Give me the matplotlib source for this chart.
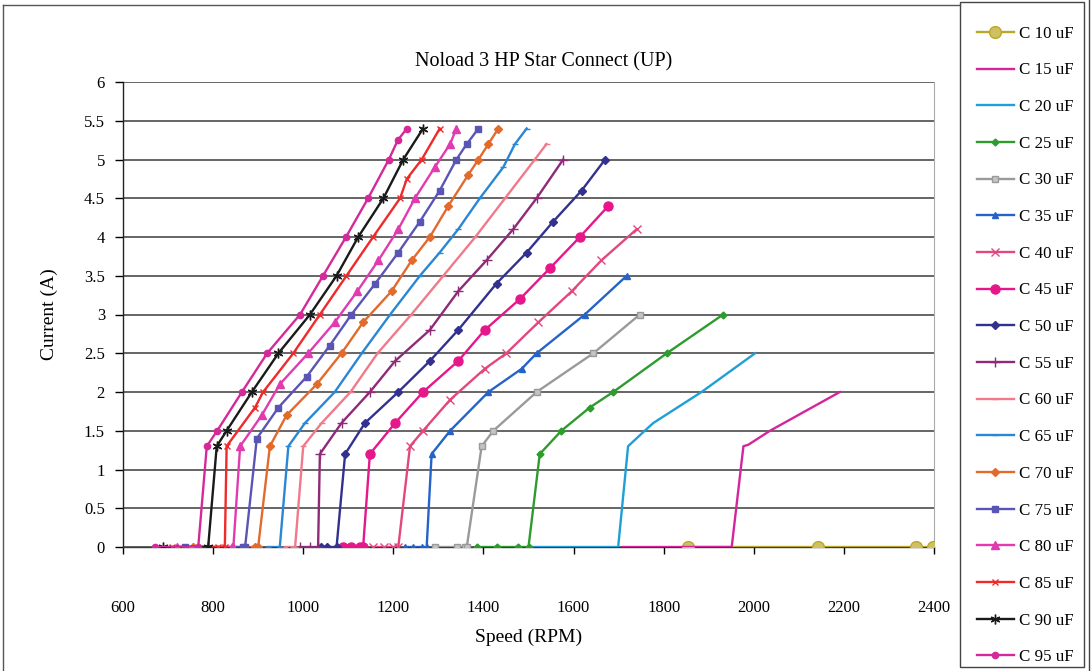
"""
No-load test of a 3 HP motor in star connection: line current against
rotor speed for each run capacitor size (10 uF to 95 uF).
"""

import matplotlib
matplotlib.use('Agg')
import matplotlib.pyplot as plt
from matplotlib.lines import Line2D
from matplotlib.patches import Rectangle

plt.rcParams.update({
    'font.family': 'Liberation Serif',
    'font.size': 11,
    'axes.linewidth': 1.0,
})

# Measured points, speed in RPM and current in A, one pair of lists per capacitor
speed_c10 = [1854, 2143, 2360, 2397]
current_c10 = [0, 0, 0, 0]

speed_c15 = [1710, 1951, 1977, 1988, 2036, 2191]
current_c15 = [0, 0, 1.3, 1.32, 1.5, 2.0]

speed_c20 = [1500, 1699, 1721, 1758, 1777, 1884, 2003]
current_c20 = [0, 0, 1.3, 1.5, 1.6, 2.0, 2.5]

speed_c25 = [1385, 1429, 1477, 1500, 1525, 1573, 1636, 1688, 1807, 1932]
current_c25 = [0, 0, 0, 0, 1.2, 1.5, 1.8, 2.0, 2.5, 3.0]

speed_c30 = [1292, 1341, 1359, 1363, 1396, 1422, 1518, 1644, 1747]
current_c30 = [0, 0, 0, 0, 1.3, 1.5, 2.0, 2.5, 3.0]

speed_c35 = [1226, 1244, 1263, 1274, 1285, 1326, 1411, 1485, 1518, 1625, 1718]
current_c35 = [0, 0, 0, 0, 1.2, 1.5, 2.0, 2.3, 2.5, 3.0, 3.5]

speed_c40 = [1155, 1180, 1200, 1211, 1237, 1266, 1326, 1403, 1451, 1522, 1596, 1662, 1740]
current_c40 = [0, 0, 0, 0, 1.3, 1.5, 1.9, 2.3, 2.5, 2.9, 3.3, 3.7, 4.1]

speed_c45 = [1089, 1105, 1126, 1133, 1148, 1204, 1266, 1344, 1403, 1481, 1548, 1614, 1677]
current_c45 = [0, 0, 0, 0, 1.2, 1.6, 2.0, 2.4, 2.8, 3.2, 3.6, 4.0, 4.4]

speed_c50 = [1040, 1052, 1074, 1093, 1137, 1211, 1281, 1344, 1429, 1496, 1555, 1618, 1670]
current_c50 = [0, 0, 0, 1.2, 1.6, 2.0, 2.4, 2.8, 3.4, 3.8, 4.2, 4.6, 5.0]

speed_c55 = [993, 1015, 1033, 1037, 1085, 1148, 1204, 1281, 1344, 1407, 1466, 1518, 1577]
current_c55 = [0, 0, 0, 1.2, 1.6, 2.0, 2.4, 2.8, 3.3, 3.7, 4.1, 4.5, 5.0]

speed_c60 = [960, 978, 982, 1000, 1041, 1105, 1165, 1240, 1311, 1382, 1448, 1514, 1540]
current_c60 = [0, 0, 0, 1.3, 1.6, 2.0, 2.5, 3.0, 3.5, 4.0, 4.5, 5.0, 5.2]

speed_c65 = [922, 948, 967, 1004, 1070, 1130, 1193, 1259, 1303, 1344, 1392, 1444, 1470, 1496]
current_c65 = [0, 0, 1.3, 1.6, 2.0, 2.5, 3.0, 3.5, 3.8, 4.1, 4.5, 4.9, 5.2, 5.4]

speed_c70 = [755, 893, 900, 926, 963, 1030, 1085, 1133, 1196, 1241, 1281, 1322, 1366, 1389, 1411, 1433]
current_c70 = [0, 0, 0, 1.3, 1.7, 2.1, 2.5, 2.9, 3.3, 3.7, 4.0, 4.4, 4.8, 5.0, 5.2, 5.4]

speed_c75 = [738, 866, 871, 897, 945, 1008, 1059, 1107, 1160, 1211, 1259, 1303, 1340, 1363, 1389]
current_c75 = [0, 0, 0, 1.4, 1.8, 2.2, 2.6, 3.0, 3.4, 3.8, 4.2, 4.6, 5.0, 5.2, 5.4]

speed_c80 = [720, 841, 845, 860, 908, 948, 1011, 1070, 1120, 1167, 1211, 1248, 1292, 1326, 1340]
current_c80 = [0, 0, 0, 1.3, 1.7, 2.1, 2.5, 2.9, 3.3, 3.7, 4.1, 4.5, 4.9, 5.2, 5.4]

speed_c85 = [709, 810, 826, 830, 893, 911, 978, 1037, 1096, 1155, 1215, 1230, 1263, 1303]
current_c85 = [0, 0, 0, 1.3, 1.8, 2.0, 2.5, 3.0, 3.5, 4.0, 4.5, 4.75, 5.0, 5.4]

speed_c90 = [689, 789, 808, 830, 886, 945, 1015, 1074, 1122, 1178, 1222, 1266]
current_c90 = [0, 0, 1.3, 1.5, 2.0, 2.5, 3.0, 3.5, 4.0, 4.5, 5.0, 5.4]

speed_c95 = [671, 767, 786, 809, 864, 920, 993, 1044, 1095, 1144, 1190, 1210, 1230]
current_c95 = [0, 0, 1.3, 1.5, 2.0, 2.5, 3.0, 3.5, 4.0, 4.5, 5.0, 5.25, 5.4]

labels = ['C 10 uF', 'C 15 uF', 'C 20 uF', 'C 25 uF', 'C 30 uF', 'C 35 uF',
          'C 40 uF', 'C 45 uF', 'C 50 uF', 'C 55 uF', 'C 60 uF', 'C 65 uF',
          'C 70 uF', 'C 75 uF', 'C 80 uF', 'C 85 uF', 'C 90 uF', 'C 95 uF']

speeds = [speed_c10, speed_c15, speed_c20, speed_c25, speed_c30, speed_c35,
          speed_c40, speed_c45, speed_c50, speed_c55, speed_c60, speed_c65,
          speed_c70, speed_c75, speed_c80, speed_c85, speed_c90, speed_c95]
currents = [current_c10, current_c15, current_c20, current_c25, current_c30, current_c35,
            current_c40, current_c45, current_c50, current_c55, current_c60, current_c65,
            current_c70, current_c75, current_c80, current_c85, current_c90, current_c95]

# line colour, marker, marker size, marker face colour
styles = [
    ('#BBA827', 'o', 8.5, '#CFC062'),
    ('#D4259A', None, 0, None),
    ('#1E9FD8', None, 0, None),
    ('#2E9B2E', 'D', 3.5, None),
    ('#9A9A9A', 's', 5, '#C4C4C4'),
    ('#2563C9', '^', 5, None),
    ('#E2477F', 'x', 6, None),
    ('#E5178A', 'o', 6.5, None),
    ('#32318F', 'D', 4.5, None),
    ('#8E2A78', '+', 7, None),
    ('#F07A8A', '_', 4, None),
    ('#2B86D4', '_', 4, None),
    ('#E26A2C', 'D', 4.5, None),
    ('#5A55B5', 's', 5, None),
    ('#E23BB0', '^', 5.5, None),
    ('#F02A2A', 'x', 5, None),
    ('#1A1A1A', (6, 2, 0), 7, None),
    ('#D42A99', 'o', 4.5, None),
]

W, H = 1092, 671
fig = plt.figure(figsize=(W / 100, H / 100), dpi=100)
ax = fig.add_axes([123 / W, 1 - 547 / H, (934 - 123) / W, (547 - 82) / H])

handles = []
for i, (x, y, label, (col, mk, ms, mfc)) in enumerate(zip(speeds, currents, labels, styles)):
    line, = ax.plot(x, y, color=col, lw=1.7, marker=mk, markersize=ms,
                    markerfacecolor=mfc if mfc else col, markeredgecolor=col,
                    markeredgewidth=1.0, label=label, zorder=3 + i)
    handles.append(line)

ax.set_xlim(600, 2400)
ax.set_ylim(0, 6)
ax.set_xticks(range(600, 2401, 200))
ax.set_yticks([v * 0.5 for v in range(13)])
ax.set_yticklabels(['0', '0.5', '1', '1.5', '2', '2.5', '3', '3.5', '4', '4.5', '5', '5.5', '6'])

ax.grid(True, axis='y', color='#3c3c3c', lw=1.1)
ax.grid(False, axis='x')
ax.set_axisbelow(True)

ax.spines['top'].set_visible(False)
ax.spines['right'].set_color('#aaaaaa')
ax.spines['right'].set_linewidth(0.8)
ax.spines['left'].set_color('#222222')
ax.spines['bottom'].set_color('#3c3c3c')

ax.tick_params(axis='y', direction='out', length=6, width=1, pad=7, labelsize=12)
ax.tick_params(axis='x', direction='out', length=5, width=1, pad=33, labelsize=12)

ax.set_title('Noload 3 HP Star Connect (UP)', fontsize=14.5, pad=11, x=0.519)
ax.set_xlabel('Speed (RPM)', fontsize=14, labelpad=9)
ax.set_ylabel('Current (A)', fontsize=14, labelpad=19)

# chart area border and legend box
fig.add_artist(Line2D([3 / W, 3 / W], [0, 1 - 5 / H], color='#555555', lw=1.0,
                      transform=fig.transFigure))
fig.add_artist(Line2D([3 / W, 960 / W], [1 - 5 / H, 1 - 5 / H], color='#555555', lw=1.0,
                      transform=fig.transFigure))
fig.add_artist(Rectangle((960 / W, 4 / H), (1084 - 960) / W, (H - 6) / H, fill=False,
                         edgecolor='#444444', lw=1.0, transform=fig.transFigure))
fig.add_artist(Line2D([1089 / W, 1089 / W], [0, 1], color='#444444', lw=1.0,
                      transform=fig.transFigure))

fig.legend(handles=handles, loc='upper left', bbox_to_anchor=(970 / W, 1 - 19 / H),
           frameon=False, fontsize=12.2, labelspacing=1.22, handlelength=2.2,
           handletextpad=0.3, borderaxespad=0)

fig.savefig('out.png', dpi=100, facecolor='white')
